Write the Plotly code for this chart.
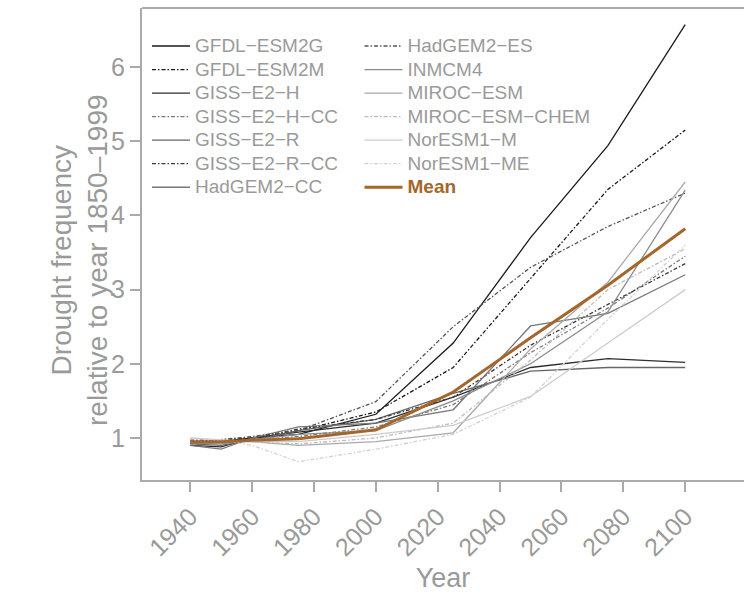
import plotly.graph_objects as go

years = [1940, 1950, 1960, 1975, 2000, 2025, 2050, 2075, 2100]

models = [
    "GFDL−ESM2G", "GFDL−ESM2M", "GISS−E2−H", "GISS−E2−H−CC", "GISS−E2−R",
    "GISS−E2−R−CC", "HadGEM2−CC", "HadGEM2−ES", "INMCM4", "MIROC−ESM",
    "MIROC−ESM−CHEM", "NorESM1−M", "NorESM1−ME",
]

gfdl_esm2g = [0.93, 0.95, 1.00, 1.05, 1.32, 2.28, 3.70, 4.94, 6.57]
gfdl_esm2m = [0.95, 0.97, 1.00, 1.10, 1.35, 1.95, 3.15, 4.35, 5.15]
giss_e2_h = [0.90, 0.88, 1.00, 1.08, 1.20, 1.55, 1.95, 2.07, 2.02]
giss_e2_h_cc = [0.93, 0.95, 0.97, 1.02, 1.15, 1.45, 2.15, 2.75, 3.45]
giss_e2_r = [0.92, 0.90, 0.97, 1.10, 1.25, 1.60, 1.90, 1.95, 1.95]
giss_e2_r_cc = [0.95, 0.97, 1.00, 1.12, 1.25, 1.55, 2.25, 2.80, 3.35]
hadgem2_cc = [0.90, 0.85, 1.00, 1.15, 1.20, 1.38, 2.51, 2.68, 3.20]
hadgem2_es = [0.97, 0.98, 1.02, 1.10, 1.49, 2.50, 3.30, 3.85, 4.30]
inmcm4 = [0.93, 0.92, 0.98, 1.05, 1.10, 1.50, 2.00, 2.70, 4.34]
miroc_esm = [0.95, 0.95, 0.95, 0.90, 0.95, 1.07, 2.20, 3.10, 4.45]
miroc_esm_chem = [0.95, 0.96, 0.95, 0.92, 1.00, 1.20, 2.05, 3.00, 3.55]
noresm1_m = [1.00, 0.98, 0.95, 0.95, 1.05, 1.17, 1.56, 2.28, 3.00]
noresm1_me = [1.00, 0.97, 0.90, 0.68, 0.85, 1.05, 1.55, 2.60, 3.60]
mean = [0.95, 0.95, 0.97, 0.99, 1.11, 1.62, 2.35, 3.06, 3.82]

series = [gfdl_esm2g, gfdl_esm2m, giss_e2_h, giss_e2_h_cc, giss_e2_r,
          giss_e2_r_cc, hadgem2_cc, hadgem2_es, inmcm4, miroc_esm,
          miroc_esm_chem, noresm1_m, noresm1_me]

DD = "4px,2px,1.5px,2px"
styles = [
    ("#1a1a1a", "solid"), ("#1a1a1a", DD), ("#2e2e2e", "solid"), ("#7a7a7a", DD),
    ("#666666", "solid"), ("#3a3a3a", DD), ("#777777", "solid"), ("#555555", DD),
    ("#8c8c8c", "solid"), ("#aaaaaa", "solid"), ("#bbbbbb", DD),
    ("#cccccc", "solid"), ("#d2d2d2", DD),
]

MEAN_COLOR = "#a5662b"
GRAY = "#9a9a9a"
AXIS = "#aaaaaa"
FONT = "Liberation Sans, Arial, sans-serif"
LEG_TEXT = 19


def legend_label(text):
    return f"<span style='font-size:{LEG_TEXT}px'>{text}</span>"


fig = go.Figure()
for i, (name, vals) in enumerate(zip(models, series)):
    col, dash = styles[i]
    fig.add_trace(go.Scatter(
        x=years, y=vals, mode="lines", name=legend_label(name),
        line=dict(color=col, width=1.3, dash=dash),
        legend="legend" if i < 7 else "legend2",
    ))
fig.add_trace(go.Scatter(
    x=years, y=mean, mode="lines",
    name=f"<b><span style='font-size:{LEG_TEXT}px;color:{MEAN_COLOR}'>Mean</span></b>",
    line=dict(color=MEAN_COLOR, width=3), legend="legend2",
))

leg_common = dict(xanchor="left", yanchor="top", bgcolor="rgba(0,0,0,0)",
                  font=dict(size=15.8, color=GRAY), tracegroupgap=0, itemwidth=38)

fig.update_layout(
    width=744, height=597,
    margin=dict(l=142, r=0, t=8, b=117),
    paper_bgcolor="white", plot_bgcolor="white",
    font=dict(family=FONT, color=GRAY),
    showlegend=True,
    legend=dict(x=0.0083, y=0.955, **leg_common),
    legend2=dict(x=0.3613, y=0.955, **leg_common),
    xaxis=dict(
        range=[1924.4, 2119], tickvals=[1940, 1960, 1980, 2000, 2020, 2040, 2060, 2080, 2100],
        tickangle=-45, tickfont=dict(size=25, color=GRAY),
        ticks="outside", ticklen=10, tickcolor=AXIS, tickwidth=1.5,
        showline=True, linecolor=AXIS, linewidth=2, showgrid=False, zeroline=False,
        title=dict(text="Year", font=dict(size=27, color=GRAY), standoff=8),
    ),
    yaxis=dict(
        range=[0.434, 6.795], tickvals=[1, 2, 3, 4, 5, 6],
        tickfont=dict(size=25, color=GRAY),
        ticks="outside", ticklen=10, tickcolor=AXIS, tickwidth=1.5,
        showline=True, linecolor=AXIS, linewidth=2, showgrid=False, zeroline=False,
    ),
    annotations=[dict(
        text="Drought frequency<br>relative to year 1850–1999",
        xref="paper", yref="paper", x=-0.1047, y=0.466,
        xanchor="center", yanchor="middle", textangle=-90, showarrow=False,
        font=dict(size=28, color=GRAY, family=FONT),
    )],
    shapes=[dict(type="line", xref="paper", yref="paper", x0=0, x1=1, y0=1, y1=1,
                 line=dict(color=AXIS, width=2))],
)

fig.write_html("out.html")
